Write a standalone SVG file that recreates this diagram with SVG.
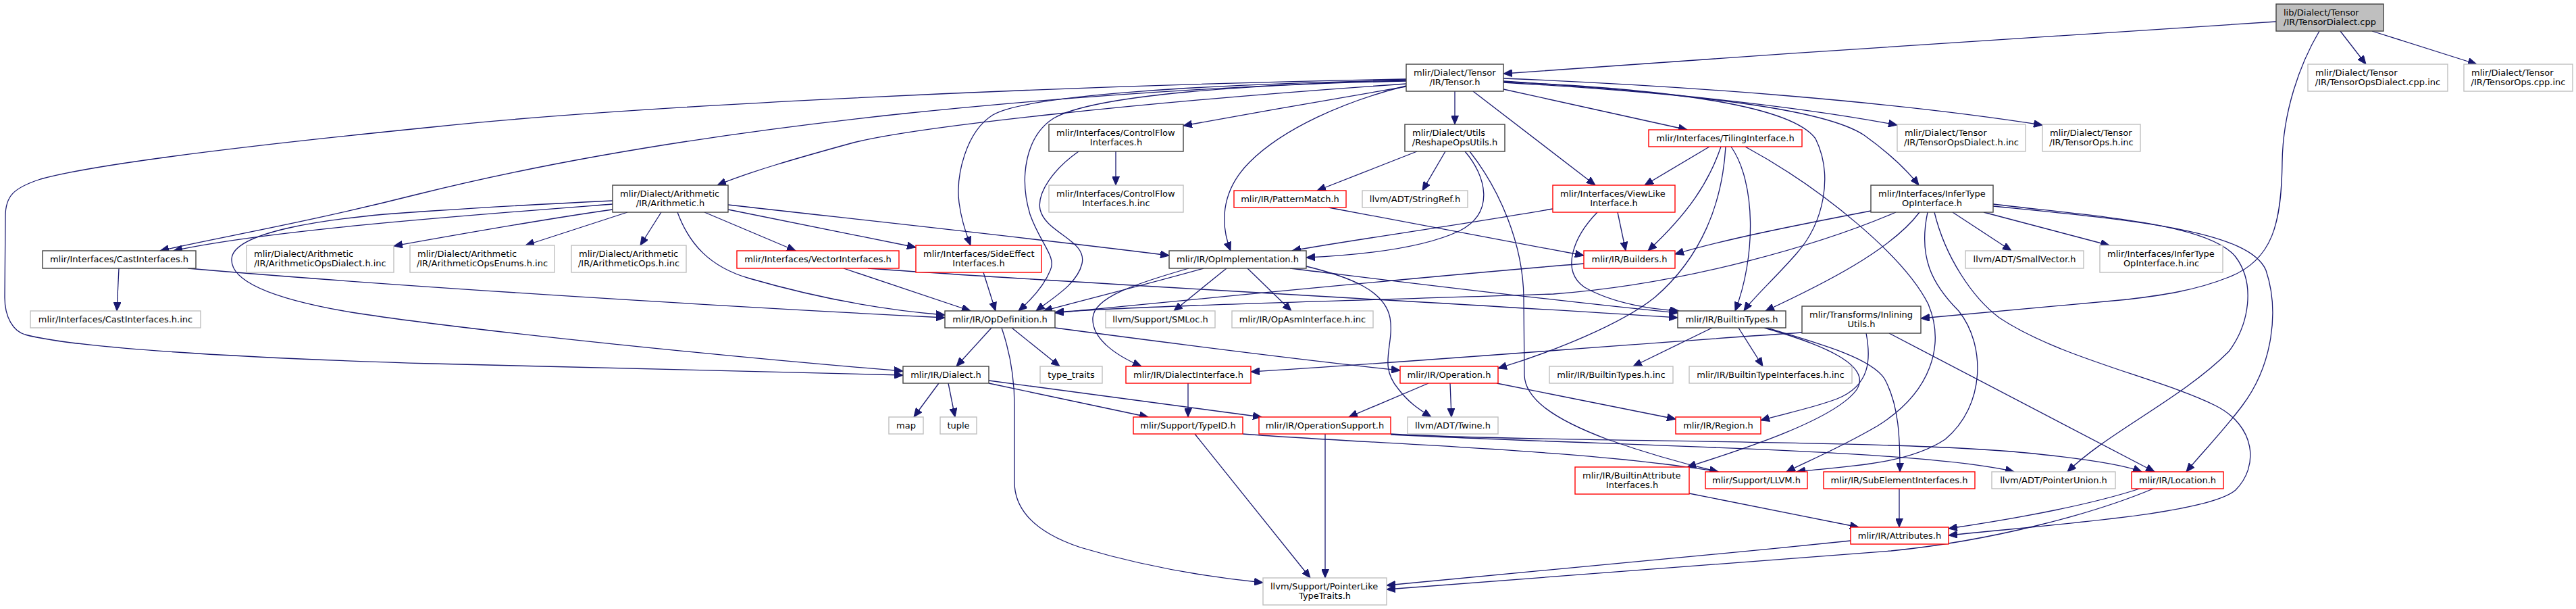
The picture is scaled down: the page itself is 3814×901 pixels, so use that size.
<svg xmlns="http://www.w3.org/2000/svg" width="3814" height="901" viewBox="0 0 3814 901">
<style>
.e{fill:none;stroke:#191970;stroke-width:1.3}
.n rect{fill:#fff;stroke-width:1.4}
.nb rect{stroke:#404040}
.ng rect{stroke:#bfbfbf}
.nr rect{stroke:#ff0000}
.root rect{fill:#bfbfbf;stroke:#404040;stroke-width:1.4}
text{font-family:"DejaVu Sans",sans-serif;font-size:13px;fill:#000}
.s{text-anchor:start}
.m{text-anchor:middle}
</style>
<defs>
<marker id="ah" markerUnits="userSpaceOnUse" markerWidth="14" markerHeight="11" refX="13" refY="5.5" orient="auto">
<path d="M0,0 L13,5.5 L0,11 z" fill="#191970" stroke="#191970" stroke-width="1"/>
</marker>
</defs>
<rect x="0" y="0" width="3814" height="901" fill="#fff"/>
<g id="connectors" marker-end="url(#ah)">
<path class="e" marker-end="url(#ah)" d="M3370,32 C3100,48 2600,82 2226,109"/>
<path class="e" marker-end="url(#ah)" d="M3465,46 L3503,95"/>
<path class="e" marker-end="url(#ah)" d="M3512,46 L3667,95"/>
<path class="e" marker-end="url(#ah)" d="M3434,46 C3405,95 3380,165 3379,240 C3378,330 3365,385 3300,410 C3250,430 3200,437 3150,443 L2844,471"/>
<path class="e" marker-end="url(#ah)" d="M2154,135 L2154,184"/>
<path class="e" marker-end="url(#ah)" d="M2181,135 L2362,274"/>
<path class="e" marker-end="url(#ah)" d="M2226,132 L2498,192"/>
<path class="e" marker-end="url(#ah)" d="M2226,120 C2450,135 2660,157 2809,185"/>
<path class="e" marker-end="url(#ah)" d="M2226,116 C2500,127 2800,150 3024,185"/>
<path class="e" marker-end="url(#ah)" d="M2226,122 C2500,138 2700,160 2760,200 C2795,225 2822,250 2841,274"/>
<path class="e" marker-end="url(#ah)" d="M2226,121 C2500,133 2655,160 2688,205 C2715,260 2700,330 2660,375 C2625,415 2596,440 2582,460"/>
<path class="e" marker-end="url(#ah)" d="M2082,128 C1980,146 1860,166 1752,186"/>
<path class="e" marker-end="url(#ah)" d="M2082,127 C1990,150 1900,190 1850,240 C1805,285 1808,335 1822,371"/>
<path class="e" marker-end="url(#ah)" d="M2082,120 C1850,125 1620,140 1560,175 C1520,200 1508,260 1525,317 C1540,360 1565,380 1555,400 C1545,425 1525,445 1508,460"/>
<path class="e" marker-end="url(#ah)" d="M2082,119 C1800,124 1520,140 1470,170 C1430,195 1415,260 1420,300 C1424,330 1432,350 1437,363"/>
<path class="e" marker-end="url(#ah)" d="M2082,124 C1700,150 1350,188 1260,212 C1180,234 1110,254 1062,274"/>
<path class="e" marker-end="url(#ah)" d="M2082,118 C1600,135 1050,180 620,287 C450,330 330,350 237,371"/>
<path class="e" marker-end="url(#ah)" d="M2082,117 C1500,128 900,160 640,188 C400,212 150,240 60,265 C20,278 8,290 8,320 L7,440 C7,470 20,490 37,495 C100,512 300,528 640,538 L1337,555"/>
<path class="e" marker-end="url(#ah)" d="M907,297 C780,303 700,308 640,312 C470,322 345,345 343,383 C341,420 420,445 520,462 C700,490 1100,530 1337,549"/>
<path class="e" marker-end="url(#ah)" d="M907,302 C700,318 400,340 257,371"/>
<path class="e" marker-end="url(#ah)" d="M907,310 C800,325 650,352 583,364"/>
<path class="e" marker-end="url(#ah)" d="M929,314 L778,363"/>
<path class="e" marker-end="url(#ah)" d="M979,314 L948,363"/>
<path class="e" marker-end="url(#ah)" d="M1043,314 L1178,371"/>
<path class="e" marker-end="url(#ah)" d="M1003,314 C1020,360 1050,395 1110,412 C1200,438 1300,458 1399,466"/>
<path class="e" marker-end="url(#ah)" d="M1078,303 C1300,328 1550,355 1731,378"/>
<path class="e" marker-end="url(#ah)" d="M1078,310 L1356,366"/>
<path class="e" marker-end="url(#ah)" d="M176,397 L173,460"/>
<path class="e" marker-end="url(#ah)" d="M278,397 C600,425 1100,455 1399,470"/>
<path class="e" marker-end="url(#ah)" d="M1249,397 L1437,460"/>
<path class="e" marker-end="url(#ah)" d="M1285,397 C1600,420 2100,445 2484,470"/>
<path class="e" marker-end="url(#ah)" d="M1456,403 L1474,460"/>
<path class="e" marker-end="url(#ah)" d="M1652,224 L1652,274"/>
<path class="e" marker-end="url(#ah)" d="M1597,224 C1560,250 1535,285 1540,310 C1548,345 1610,355 1602,390 C1595,420 1560,440 1534,460"/>
<path class="e" marker-end="url(#ah)" d="M1782,397 C1700,420 1600,445 1545,460"/>
<path class="e" marker-end="url(#ah)" d="M1816,397 L1738,460"/>
<path class="e" marker-end="url(#ah)" d="M1847,397 L1912,460"/>
<path class="e" marker-end="url(#ah)" d="M1910,397 C2100,420 2300,445 2484,463"/>
<path class="e" marker-end="url(#ah)" d="M1760,397 C1680,420 1620,440 1618,470 C1616,500 1650,525 1690,542"/>
<path class="e" marker-end="url(#ah)" d="M1934,394 C2000,410 2050,430 2058,470 C2065,510 2040,540 2070,575 C2085,595 2100,605 2119,617"/>
<path class="e" marker-end="url(#ah)" d="M2098,224 L1950,282"/>
<path class="e" marker-end="url(#ah)" d="M2140,224 L2106,282"/>
<path class="e" marker-end="url(#ah)" d="M2169,224 C2200,260 2215,315 2160,342 C2100,370 2000,378 1934,381"/>
<path class="e" marker-end="url(#ah)" d="M2176,224 C2220,280 2255,360 2256,440 L2257,555 C2258,590 2300,620 2380,650 C2450,675 2510,690 2544,698"/>
<path class="e" marker-end="url(#ah)" d="M1967,307 L2345,378"/>
<path class="e" marker-end="url(#ah)" d="M2299,309 C2150,335 2000,355 1913,371"/>
<path class="e" marker-end="url(#ah)" d="M2395,314 L2407,371"/>
<path class="e" marker-end="url(#ah)" d="M2365,314 C2330,350 2310,400 2346,425 C2390,450 2450,458 2486,460"/>
<path class="e" marker-end="url(#ah)" d="M2531,217 L2435,274"/>
<path class="e" marker-end="url(#ah)" d="M2548,217 C2530,270 2500,315 2440,371"/>
<path class="e" marker-end="url(#ah)" d="M2555,217 C2550,300 2520,380 2450,440 C2400,480 2300,520 2218,545"/>
<path class="e" marker-end="url(#ah)" d="M2563,217 C2600,270 2600,380 2569,460"/>
<path class="e" marker-end="url(#ah)" d="M2584,217 C2700,280 2820,380 2855,450 C2880,510 2860,580 2780,630 C2720,665 2670,685 2645,698"/>
<path class="e" marker-end="url(#ah)" d="M2770,312 C2650,335 2550,355 2480,376"/>
<path class="e" marker-end="url(#ah)" d="M2807,314 C2700,360 2500,420 2300,435 C2000,445 1700,452 1562,462"/>
<path class="e" marker-end="url(#ah)" d="M2842,314 C2800,370 2700,420 2614,460"/>
<path class="e" marker-end="url(#ah)" d="M2854,314 C2840,380 2860,420 2900,460 C2940,510 2940,600 2880,650 C2820,690 2720,690 2660,698"/>
<path class="e" marker-end="url(#ah)" d="M2864,314 C2880,380 2920,440 2960,470 C3050,530 3200,560 3280,600 C3340,630 3345,690 3310,725 C3270,760 3050,775 2885,792"/>
<path class="e" marker-end="url(#ah)" d="M2891,314 L2978,371"/>
<path class="e" marker-end="url(#ah)" d="M2937,314 L3123,363"/>
<path class="e" marker-end="url(#ah)" d="M2951,302 C3100,320 3270,330 3310,380 C3340,420 3330,480 3300,520 C3230,590 3120,640 3061,698"/>
<path class="e" marker-end="url(#ah)" d="M2951,305 C3150,325 3330,340 3355,400 C3375,460 3365,540 3320,600 C3290,640 3260,670 3237,698"/>
<path class="e" marker-end="url(#ah)" d="M2535,485 L2418,542"/>
<path class="e" marker-end="url(#ah)" d="M2574,485 L2610,542"/>
<path class="e" marker-end="url(#ah)" d="M2612,485 C2700,510 2770,540 2750,575 C2720,620 2580,665 2498,691"/>
<path class="e" marker-end="url(#ah)" d="M2616,485 C2700,510 2770,530 2790,560 C2812,600 2813,650 2813,698"/>
<path class="e" marker-end="url(#ah)" d="M2668,492 C2400,510 2100,535 1852,550"/>
<path class="e" marker-end="url(#ah)" d="M2763,493 C2770,530 2770,570 2720,590 C2680,605 2640,612 2607,622"/>
<path class="e" marker-end="url(#ah)" d="M2797,493 L3190,698"/>
<path class="e" marker-end="url(#ah)" d="M1468,485 L1416,542"/>
<path class="e" marker-end="url(#ah)" d="M1498,485 L1569,542"/>
<path class="e" marker-end="url(#ah)" d="M1562,485 C1750,510 1950,535 2073,548"/>
<path class="e" marker-end="url(#ah)" d="M1483,485 C1495,520 1502,560 1502,600 L1502,713 C1502,760 1540,790 1600,810 C1700,840 1800,855 1870,862"/>
<path class="e" marker-end="url(#ah)" d="M1390,567 L1353,617"/>
<path class="e" marker-end="url(#ah)" d="M1404,567 L1414,617"/>
<path class="e" marker-end="url(#ah)" d="M1464,567 L1700,617"/>
<path class="e" marker-end="url(#ah)" d="M1464,563 L1868,617"/>
<path class="e" marker-end="url(#ah)" d="M1759,567 L1759,617"/>
<path class="e" marker-end="url(#ah)" d="M1769,642 L1940,855"/>
<path class="e" marker-end="url(#ah)" d="M1840,642 C2000,655 2350,665 2544,698"/>
<path class="e" marker-end="url(#ah)" d="M1962,642 L1962,855"/>
<path class="e" marker-end="url(#ah)" d="M2059,642 C2300,655 2800,650 3000,670 C3100,680 3150,690 3171,698"/>
<path class="e" marker-end="url(#ah)" d="M2059,643 C2400,660 2850,665 2982,698"/>
<path class="e" marker-end="url(#ah)" d="M2115,567 L1997,617"/>
<path class="e" marker-end="url(#ah)" d="M2147,567 L2149,617"/>
<path class="e" marker-end="url(#ah)" d="M2216,567 L2481,620"/>
<path class="e" marker-end="url(#ah)" d="M2501,730 L2752,780"/>
<path class="e" marker-end="url(#ah)" d="M2812,723 L2812,780"/>
<path class="e" marker-end="url(#ah)" d="M3168,723 C3100,745 3000,765 2885,782"/>
<path class="e" marker-end="url(#ah)" d="M3188,723 C3100,760 2950,800 2800,815 C2500,840 2250,858 2053,872"/>
<path class="e" marker-end="url(#ah)" d="M2740,800 C2500,825 2250,848 2053,866"/>
<path class="e" marker-end="url(#ah)" d="M2345,390 C2100,410 1800,440 1562,463"/>
</g>
<g id="n_root" class="root"><rect x="3370" y="6" width="159" height="40"/><text class="s" x="3381" y="23">lib/Dialect/Tensor</text><text class="m" x="3449.5" y="37">/IR/TensorDialect.cpp</text></g>
<g id="n_tensor" class="n nb"><rect x="2082" y="95" width="144" height="40"/><text class="s" x="2093" y="112">mlir/Dialect/Tensor</text><text class="m" x="2154" y="126">/IR/Tensor.h</text></g>
<g id="n_topsdcppinc" class="n ng"><rect x="3417" y="95" width="207" height="40"/><text class="s" x="3428" y="112">mlir/Dialect/Tensor</text><text class="m" x="3520.5" y="126">/IR/TensorOpsDialect.cpp.inc</text></g>
<g id="n_topscppinc" class="n ng"><rect x="3648" y="95" width="161" height="40"/><text class="s" x="3659" y="112">mlir/Dialect/Tensor</text><text class="m" x="3728.5" y="126">/IR/TensorOps.cpp.inc</text></g>
<g id="n_cfi" class="n nb"><rect x="1553" y="184" width="199" height="40"/><text class="s" x="1564" y="201">mlir/Interfaces/ControlFlow</text><text class="m" x="1652.5" y="215">Interfaces.h</text></g>
<g id="n_reshape" class="n nb"><rect x="2080" y="184" width="148" height="40"/><text class="s" x="2091" y="201">mlir/Dialect/Utils</text><text class="m" x="2154" y="215">/ReshapeOpsUtils.h</text></g>
<g id="n_tiling" class="n nr"><rect x="2441" y="192" width="227" height="25"/><text class="m" x="2554.5" y="209">mlir/Interfaces/TilingInterface.h</text></g>
<g id="n_topsdhinc" class="n ng"><rect x="2809" y="184" width="190" height="40"/><text class="s" x="2820" y="201">mlir/Dialect/Tensor</text><text class="m" x="2904" y="215">/IR/TensorOpsDialect.h.inc</text></g>
<g id="n_topshinc" class="n ng"><rect x="3024" y="184" width="145" height="40"/><text class="s" x="3035" y="201">mlir/Dialect/Tensor</text><text class="m" x="3096.5" y="215">/IR/TensorOps.h.inc</text></g>
<g id="n_arith" class="n nb"><rect x="907" y="274" width="171" height="40"/><text class="s" x="918" y="291">mlir/Dialect/Arithmetic</text><text class="m" x="992.5" y="305">/IR/Arithmetic.h</text></g>
<g id="n_cfiinc" class="n ng"><rect x="1553" y="274" width="199" height="40"/><text class="s" x="1564" y="291">mlir/Interfaces/ControlFlow</text><text class="m" x="1652.5" y="305">Interfaces.h.inc</text></g>
<g id="n_pm" class="n nr"><rect x="1827" y="282" width="166" height="25"/><text class="m" x="1910" y="299">mlir/IR/PatternMatch.h</text></g>
<g id="n_strref" class="n ng"><rect x="2017" y="282" width="156" height="25"/><text class="m" x="2095" y="299">llvm/ADT/StringRef.h</text></g>
<g id="n_viewlike" class="n nr"><rect x="2299" y="274" width="181" height="40"/><text class="s" x="2310" y="291">mlir/Interfaces/ViewLike</text><text class="m" x="2389.5" y="305">Interface.h</text></g>
<g id="n_infer" class="n nb"><rect x="2770" y="274" width="181" height="40"/><text class="s" x="2781" y="291">mlir/Interfaces/InferType</text><text class="m" x="2860.5" y="305">OpInterface.h</text></g>
<g id="n_cast" class="n nb"><rect x="63" y="371" width="227" height="26"/><text class="m" x="176.5" y="388">mlir/Interfaces/CastInterfaces.h</text></g>
<g id="n_aodinc" class="n ng"><rect x="365" y="363" width="218" height="40"/><text class="s" x="376" y="380">mlir/Dialect/Arithmetic</text><text class="m" x="474" y="394">/IR/ArithmeticOpsDialect.h.inc</text></g>
<g id="n_aoeinc" class="n ng"><rect x="607" y="363" width="214" height="40"/><text class="s" x="618" y="380">mlir/Dialect/Arithmetic</text><text class="m" x="714" y="394">/IR/ArithmeticOpsEnums.h.inc</text></g>
<g id="n_aoinc" class="n ng"><rect x="846" y="363" width="170" height="40"/><text class="s" x="857" y="380">mlir/Dialect/Arithmetic</text><text class="m" x="931" y="394">/IR/ArithmeticOps.h.inc</text></g>
<g id="n_vector" class="n nr"><rect x="1091" y="371" width="240" height="26"/><text class="m" x="1211" y="388">mlir/Interfaces/VectorInterfaces.h</text></g>
<g id="n_sideeffect" class="n nr"><rect x="1356" y="363" width="186" height="40"/><text class="s" x="1367" y="380">mlir/Interfaces/SideEffect</text><text class="m" x="1449" y="394">Interfaces.h</text></g>
<g id="n_opimpl" class="n nb"><rect x="1731" y="371" width="203" height="26"/><text class="m" x="1832.5" y="388">mlir/IR/OpImplementation.h</text></g>
<g id="n_builders" class="n nr"><rect x="2345" y="371" width="135" height="26"/><text class="m" x="2412.5" y="388">mlir/IR/Builders.h</text></g>
<g id="n_smallvec" class="n ng"><rect x="2910" y="371" width="175" height="26"/><text class="m" x="2997.5" y="388">llvm/ADT/SmallVector.h</text></g>
<g id="n_inferinc" class="n ng"><rect x="3109" y="363" width="182" height="40"/><text class="s" x="3120" y="380">mlir/Interfaces/InferType</text><text class="m" x="3200" y="394">OpInterface.h.inc</text></g>
<g id="n_castinc" class="n ng"><rect x="45" y="460" width="252" height="25"/><text class="m" x="171" y="477">mlir/Interfaces/CastInterfaces.h.inc</text></g>
<g id="n_opdef" class="n nb"><rect x="1399" y="460" width="163" height="25"/><text class="m" x="1480.5" y="477">mlir/IR/OpDefinition.h</text></g>
<g id="n_smloc" class="n ng"><rect x="1637" y="460" width="162" height="25"/><text class="m" x="1718" y="477">llvm/Support/SMLoc.h</text></g>
<g id="n_opasminc" class="n ng"><rect x="1824" y="460" width="209" height="25"/><text class="m" x="1928.5" y="477">mlir/IR/OpAsmInterface.h.inc</text></g>
<g id="n_btypes" class="n nb"><rect x="2484" y="460" width="160" height="25"/><text class="m" x="2564" y="477">mlir/IR/BuiltinTypes.h</text></g>
<g id="n_inlining" class="n nb"><rect x="2668" y="453" width="176" height="40"/><text class="s" x="2679" y="470">mlir/Transforms/Inlining</text><text class="m" x="2756" y="484">Utils.h</text></g>
<g id="n_dialect" class="n nb"><rect x="1337" y="542" width="127" height="25"/><text class="m" x="1400.5" y="559">mlir/IR/Dialect.h</text></g>
<g id="n_typetraits" class="n ng"><rect x="1540" y="542" width="92" height="25"/><text class="m" x="1586" y="559">type_traits</text></g>
<g id="n_dialectif" class="n nr"><rect x="1667" y="542" width="185" height="25"/><text class="m" x="1759.5" y="559">mlir/IR/DialectInterface.h</text></g>
<g id="n_operation" class="n nr"><rect x="2073" y="542" width="145" height="25"/><text class="m" x="2145.5" y="559">mlir/IR/Operation.h</text></g>
<g id="n_btypesinc" class="n ng"><rect x="2294" y="542" width="183" height="25"/><text class="m" x="2385.5" y="559">mlir/IR/BuiltinTypes.h.inc</text></g>
<g id="n_btiinc" class="n ng"><rect x="2501" y="542" width="241" height="25"/><text class="m" x="2621.5" y="559">mlir/IR/BuiltinTypeInterfaces.h.inc</text></g>
<g id="n_map" class="n ng"><rect x="1316" y="617" width="51" height="25"/><text class="m" x="1341.5" y="634">map</text></g>
<g id="n_tuple" class="n ng"><rect x="1392" y="617" width="54" height="25"/><text class="m" x="1419" y="634">tuple</text></g>
<g id="n_typeid" class="n nr"><rect x="1678" y="617" width="162" height="25"/><text class="m" x="1759" y="634">mlir/Support/TypeID.h</text></g>
<g id="n_opsupport" class="n nr"><rect x="1864" y="617" width="195" height="25"/><text class="m" x="1961.5" y="634">mlir/IR/OperationSupport.h</text></g>
<g id="n_twine" class="n ng"><rect x="2084" y="617" width="134" height="25"/><text class="m" x="2151" y="634">llvm/ADT/Twine.h</text></g>
<g id="n_region" class="n nr"><rect x="2481" y="617" width="126" height="25"/><text class="m" x="2544" y="634">mlir/IR/Region.h</text></g>
<g id="n_bai" class="n nr"><rect x="2332" y="691" width="169" height="40"/><text class="s" x="2343" y="708">mlir/IR/BuiltinAttribute</text><text class="m" x="2416.5" y="722">Interfaces.h</text></g>
<g id="n_llvm" class="n nr"><rect x="2525" y="698" width="151" height="25"/><text class="m" x="2600.5" y="715">mlir/Support/LLVM.h</text></g>
<g id="n_subelem" class="n nr"><rect x="2700" y="698" width="224" height="25"/><text class="m" x="2812" y="715">mlir/IR/SubElementInterfaces.h</text></g>
<g id="n_ptrunion" class="n ng"><rect x="2949" y="698" width="183" height="25"/><text class="m" x="3040.5" y="715">llvm/ADT/PointerUnion.h</text></g>
<g id="n_location" class="n nr"><rect x="3156" y="698" width="136" height="25"/><text class="m" x="3224" y="715">mlir/IR/Location.h</text></g>
<g id="n_attrs" class="n nr"><rect x="2740" y="780" width="145" height="25"/><text class="m" x="2812.5" y="797">mlir/IR/Attributes.h</text></g>
<g id="n_ptrlike" class="n ng"><rect x="1870" y="855" width="183" height="40"/><text class="s" x="1881" y="872">llvm/Support/PointerLike</text><text class="m" x="1961.5" y="886">TypeTraits.h</text></g>
</svg>
